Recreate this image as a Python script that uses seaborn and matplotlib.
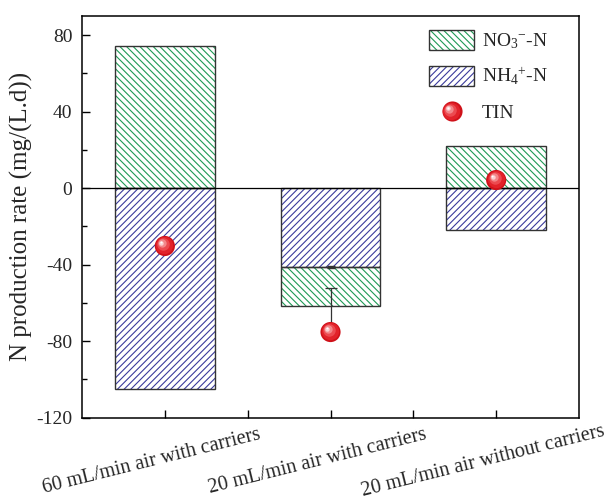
import matplotlib
matplotlib.use('Agg')
import matplotlib.pyplot as plt
import matplotlib.transforms as mtransforms
from matplotlib.patches import Patch
from matplotlib.lines import Line2D
from matplotlib.legend_handler import HandlerBase, HandlerTuple
from matplotlib.ticker import MultipleLocator, FixedLocator
import seaborn as sns
import pandas as pd
import numpy as np

# ---- data ----
conditions = ['60 mL/min air with carriers',
              '20 mL/min air with carriers',
              '20 mL/min air without carriers']
no3 = [74.5, -20.5, 22.0]       # NO3--N production rate
nh4 = [-105.0, -41.2, -22.0]    # NH4+-N production rate
tin = [-30.3, -75.3, 4.2]       # total inorganic N
tin_err_up = [0.0, 23.0, 0.0]
nh4_err = [0.0, 0.6, 0.0]

GREEN = '#1e9a55'
BLUE = '#3a3a9c'
EDGE = '#333333'

sns.set_theme(style='ticks')
plt.rcParams['font.family'] = ['Liberation Serif', 'DejaVu Serif']
plt.rcParams['mathtext.fontset'] = 'custom'
plt.rcParams['mathtext.rm'] = 'Liberation Serif'
plt.rcParams['mathtext.it'] = 'Liberation Serif:italic'
plt.rcParams['axes.unicode_minus'] = False
plt.rcParams['hatch.linewidth'] = 0.8

df = pd.DataFrame({'cond': conditions, 'NO3': no3, 'NH4': nh4, 'TIN': tin,
                   'tin_up': tin_err_up, 'nh4_err': nh4_err})
df['x'] = np.arange(len(df))
# NO3 sits on NH4 when both are negative
df['no3_bottom'] = [b if v < 0 else 0 for v, b in zip(df['NO3'], df['NH4'])]

fig = plt.figure(figsize=(6.14, 5.0), dpi=100)
ax = fig.add_axes([0.1336, 0.165, 0.8094, 0.803])

w = 0.6
# hatched fills
ax.bar(df['x'], df['NH4'], width=w, color='white', edgecolor=BLUE, hatch='/////', linewidth=0, zorder=2)
ax.bar(df['x'], df['NO3'], width=w, bottom=df['no3_bottom'], color='white', edgecolor=GREEN,
       hatch='\\\\\\\\\\', linewidth=0, zorder=2)
# outlines
ax.bar(df['x'], df['NH4'], width=w, fill=False, edgecolor=EDGE, linewidth=1.0, zorder=3)
ax.bar(df['x'], df['NO3'], width=w, bottom=df['no3_bottom'], fill=False, edgecolor=EDGE, linewidth=1.0, zorder=3)

ax.axhline(0, color='black', lw=0.9, zorder=4)

# error bars (only where the reference shows them)
e1 = df[df['nh4_err'] > 0]
ax.errorbar(e1['x'], e1['NH4'], yerr=e1['nh4_err'], fmt='none', ecolor=EDGE, elinewidth=0.8,
            capsize=3, zorder=4)
e2 = df[df['tin_up'] > 0]
ax.errorbar(e2['x'], e2['TIN'], yerr=[np.zeros(len(e2)), e2['tin_up']], fmt='none', ecolor=EDGE,
            elinewidth=0.9, capsize=4, capthick=0.9, zorder=4)

# shiny red balls for TIN
BALL = [(14.5, '#cf1119', 0.0, 0.0),
        (12.5, '#e2222a', -0.4, 0.4),
        (9.0, '#ec4a50', -1.2, 1.2),
        (6.0, '#f3878a', -1.9, 1.9),
        (3.2, '#fbd2d3', -2.5, 2.5),
        (1.4, '#ffffff', -2.7, 2.7)]
sns.scatterplot(data=df, x='x', y='TIN', s=BALL[0][0] ** 2, color=BALL[0][1], edgecolor='none',
                zorder=5, ax=ax, legend=False)
for ms, c, dx, dy in BALL[1:]:
    tr = ax.transData + mtransforms.ScaledTranslation(dx / 72, dy / 72, fig.dpi_scale_trans)
    ax.plot(df['x'], df['TIN'], 'o', ms=ms, mfc=c, mec='none', ls='none', transform=tr, zorder=6)

ax.set_xlim(-0.5, 2.5)
ax.set_ylim(-120, 90)
ax.yaxis.set_major_locator(FixedLocator([-120, -80, -40, 0, 40, 80]))
ax.yaxis.set_minor_locator(MultipleLocator(20))
ax.set_xticks(df['x'])
ax.set_xticks([0.5, 1.5], minor=True)
ax.set_xticklabels([])
# rotated category labels, a little left of their ticks
lab_tr = ax.get_xaxis_transform() + mtransforms.ScaledTranslation(-13 / 100, -44 / 100, fig.dpi_scale_trans)
for xi, name in zip(df['x'], df['cond']):
    ax.text(xi, 0, name, transform=lab_tr, rotation=14, ha='center', va='center',
            fontsize=14.6, clip_on=False)
ax.tick_params(axis='y', labelsize=14, pad=7)
ax.tick_params(which='major', direction='in', length=6, width=1.0, color='black')
ax.tick_params(which='minor', direction='in', length=3.5, width=1.0, color='black')
ax.tick_params(axis='x', which='minor', length=6)
ax.set_xlabel('')
ax.set_ylabel('N production rate (mg/(L.d))', fontsize=18, labelpad=2)
for s in ax.spines.values():
    s.set_color('black')
    s.set_linewidth(1.1)


class BallHandler(HandlerBase):
    def create_artists(self, legend, orig_handle, xd, yd, width, height, fontsize, trans):
        cx, cy = width / 2 - xd, height / 2 - yd
        arts = []
        for ms, c, dx, dy in BALL:
            arts.append(Line2D([cx + dx], [cy + dy], marker='o', ms=ms, mfc=c, mec='none',
                               ls='none', transform=trans))
        return arts


h_no3 = (Patch(facecolor='white', edgecolor=GREEN, hatch='\\\\\\\\\\', linewidth=0),
         Patch(fill=False, edgecolor=EDGE, linewidth=1.0))
h_nh4 = (Patch(facecolor='white', edgecolor=BLUE, hatch='/////', linewidth=0),
         Patch(fill=False, edgecolor=EDGE, linewidth=1.0))
h_tin = object()
ax.legend([h_no3, h_nh4, h_tin], [r'NO$_3$$^{-}$-N', r'NH$_4$$^{+}$-N', 'TIN'],
          handler_map={tuple: HandlerTuple(ndivide=1, pad=0), h_tin.__class__: BallHandler()},
          loc='upper right', frameon=False, fontsize=14, handlelength=2.3, handleheight=1.2,
          labelspacing=0.75, handletextpad=0.4, borderaxespad=0.3, bbox_to_anchor=(0.965, 1.0))

fig.savefig('out.png', dpi=100)
